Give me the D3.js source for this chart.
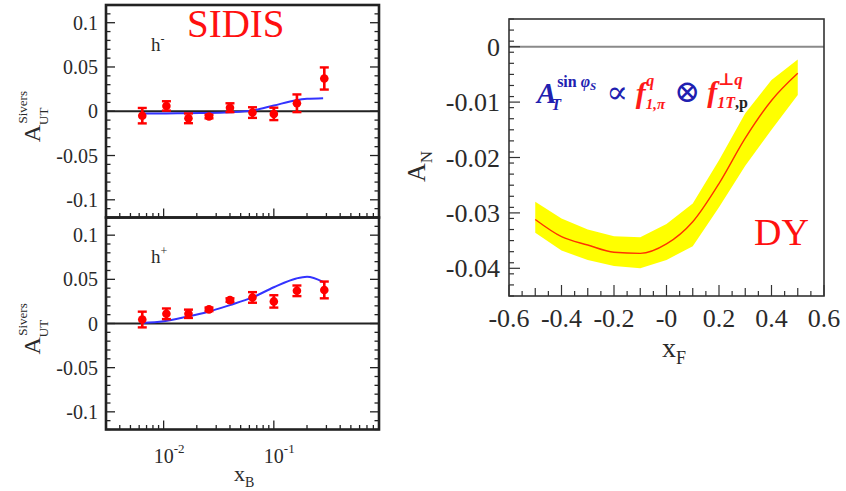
<!DOCTYPE html>
<html><head><meta charset="utf-8">
<script src="https://cdn.jsdelivr.net/npm/d3@7/dist/d3.min.js"></script>
<style>
html,body{margin:0;padding:0;background:#fff;}
svg{display:block;}
svg text{font-family:'Liberation Serif','Times New Roman',Times,'DejaVu Serif',serif;}
</style></head>
<body>
<svg id="chart" width="846" height="491" font-family="Liberation Serif, Times New Roman, serif"></svg>
<script>
// ---------- data: SIDIS panels ----------
const xB = [0.0064, 0.0106, 0.0168, 0.0258, 0.040, 0.064, 0.100, 0.162, 0.287];
const hMinusVal = [-0.005, 0.006, -0.008, -0.006, 0.004, -0.0015, -0.003, 0.009, 0.037];
const hMinusErr = [0.0087, 0.0053, 0.0055, 0.002, 0.005, 0.006, 0.007, 0.010, 0.0125];
const hPlusVal = [0.0045, 0.011, 0.011, 0.016, 0.0265, 0.0295, 0.025, 0.037, 0.038];
const hPlusErr = [0.0089, 0.006, 0.0047, 0.002, 0.002, 0.006, 0.007, 0.006, 0.0095];
const curveX = [0.0064, 0.01, 0.016, 0.025, 0.04, 0.064, 0.1, 0.16, 0.2, 0.28];
const hMinusCurve = [-0.0025, -0.0025, -0.0022, -0.002, -0.0012, 0.0008, 0.0065, 0.0125, 0.014, 0.0148];
const hPlusCurve = [0.0007, 0.0026, 0.0075, 0.013, 0.0208, 0.0295, 0.041, 0.051, 0.0529, 0.047];
const sidisYTicks = [0.1, 0.05, 0, -0.05, -0.1];
const sidisYLabels = ["0.1", "0.05", "0", "-0.05", "-0.1"];
const sidisXMajor = [0.01, 0.1];
const sidisXExp = ["-2", "-1"];

// ---------- data: DY panel ----------
const xF = [-0.5, -0.4, -0.3, -0.2, -0.1, 0.0, 0.1, 0.2, 0.3, 0.4, 0.5];
const dyCentral = [-0.0312, -0.0343, -0.0358, -0.0371, -0.0373, -0.0356, -0.0316, -0.0247, -0.0165, -0.0097, -0.0048];
const dyUpper = [-0.0280, -0.0310, -0.0330, -0.0342, -0.0344, -0.0320, -0.0283, -0.0205, -0.0120, -0.0060, -0.0023];
const dyLower = [-0.0336, -0.0368, -0.0385, -0.0396, -0.0400, -0.0385, -0.0360, -0.0290, -0.0215, -0.0150, -0.0087];
const dyYTicks = [0, -0.01, -0.02, -0.03, -0.04];
const dyYLabels = ["0", "-0.01", "-0.02", "-0.03", "-0.04"];
const dyXTicks = [-0.6, -0.4, -0.2, 0, 0.2, 0.4, 0.6];
const dyXLabels = ["-0.6", "-0.4", "-0.2", "-0", "0.2", "0.4", "0.6"];

const svg = d3.select("#chart");
const TXT = "#2a2a2a";

// ================= LEFT (SIDIS) =================
const L = {x0: 106, x1: 379};
const panels = [
  {y0: 5, y1: 217.5, val: hMinusVal, err: hMinusErr, curve: hMinusCurve, lab: "h", sup: "-"},
  {y0: 217.5, y1: 429.5, val: hPlusVal, err: hPlusErr, curve: hPlusCurve, lab: "h", sup: "+"}
];
const xLog = d3.scaleLog().domain([0.003, 0.9]).range([L.x0, L.x1]);

panels.forEach((p, pi) => {
  const y = d3.scaleLinear().domain([-0.12, 0.12]).range([p.y1, p.y0]);
  const g = svg.append("g");
  g.append("line").attr("x1", L.x0).attr("x2", L.x1).attr("y1", y(0)).attr("y2", y(0))
    .attr("stroke", "#222").attr("stroke-width", 2);
  const minor = d3.range(-12, 13).map(d => d / 100);
  minor.forEach(v => {
    const major = Math.abs(Math.round(v * 100) % 5) === 0;
    const len = major ? 9 : 4.5;
    g.append("line").attr("x1", L.x0).attr("x2", L.x0 + len).attr("y1", y(v)).attr("y2", y(v))
      .attr("stroke", "#222").attr("stroke-width", 1.3);
    g.append("line").attr("x1", L.x1).attr("x2", L.x1 - len).attr("y1", y(v)).attr("y2", y(v))
      .attr("stroke", "#222").attr("stroke-width", 1.3);
  });
  sidisYTicks.forEach((v, i) => {
    g.append("text").attr("x", 98).attr("y", y(v) + 7).attr("text-anchor", "end")
      .attr("font-size", 20).attr("fill", TXT).text(sidisYLabels[i]);
  });
  const xt = [];
  for (let e = -3; e <= -1; e++) for (let k = 1; k <= 9; k++) { const v = k * Math.pow(10, e); if (v >= 0.003 && v <= 0.9) xt.push(v); }
  xt.forEach(v => {
    const major = Math.abs(Math.log10(v) - Math.round(Math.log10(v))) < 1e-6;
    const len = major ? 9 : 4.5;
    g.append("line").attr("x1", xLog(v)).attr("x2", xLog(v)).attr("y1", p.y1).attr("y2", p.y1 - len)
      .attr("stroke", "#222").attr("stroke-width", 1.3);
  });
  const line = d3.line().x((d, i) => xLog(curveX[i])).y(d => y(d)).curve(d3.curveMonotoneX);
  g.append("path").attr("d", line(p.curve)).attr("fill", "none").attr("stroke", "#3333ff").attr("stroke-width", 2);
  xB.forEach((xv, i) => {
    const cx = xLog(xv), v = p.val[i], e = p.err[i];
    g.append("line").attr("x1", cx).attr("x2", cx).attr("y1", y(v - e)).attr("y2", y(v + e))
      .attr("stroke", "#ff0000").attr("stroke-width", 2.6);
    [v - e, v + e].forEach(t => g.append("line").attr("x1", cx - 4.5).attr("x2", cx + 4.5).attr("y1", y(t)).attr("y2", y(t))
      .attr("stroke", "#ff0000").attr("stroke-width", 2.4));
    g.append("circle").attr("cx", cx).attr("cy", y(v)).attr("r", 4.3).attr("fill", "#ff0000");
  });
  const hl = g.append("text").attr("x", 151).attr("y", pi === 0 ? 51 : 263).attr("font-size", 19).attr("fill", TXT);
  hl.append("tspan").text(p.lab);
  hl.append("tspan").attr("dy", -8).attr("font-size", 12).text(p.sup);
  g.append("rect").attr("x", L.x0).attr("y", p.y0).attr("width", L.x1 - L.x0).attr("height", p.y1 - p.y0)
    .attr("fill", "none").attr("stroke", "#222").attr("stroke-width", 2.6);
  const yl = g.append("g").attr("transform", `translate(40,${y(0) + 31}) rotate(-90)`);
  const ylt = yl.append("text").attr("font-size", 24).attr("fill", TXT);
  ylt.append("tspan").text("A");
  ylt.append("tspan").attr("font-size", 13).attr("dy", 8).text("UT");
  ylt.append("tspan").attr("font-size", 13).attr("dx", -16).attr("dy", -21).text("Sivers");
});
sidisXMajor.forEach((v, i) => {
  const t = svg.append("text").attr("x", xLog(v) - 10).attr("y", 463).attr("font-size", 20).attr("fill", TXT);
  t.append("tspan").text("10");
  t.append("tspan").attr("dy", -10).attr("font-size", 13).text(sidisXExp[i]);
});
{
  const t = svg.append("text").attr("x", 234).attr("y", 481).attr("font-size", 22).attr("fill", TXT);
  t.append("tspan").text("x");
  t.append("tspan").attr("dy", 6).attr("font-size", 14).text("B");
}
svg.append("text").attr("x", 187).attr("y", 37).attr("font-size", 39).attr("fill", "#ff1010").text("SIDIS");

// ================= RIGHT (DY) =================
const R = {x0: 509, x1: 824, y0: 19, y1: 296};
const xs = d3.scaleLinear().domain([-0.6, 0.6]).range([R.x0, R.x1]);
const ys = d3.scaleLinear().domain([-0.045, 0.005]).range([R.y1, R.y0]);
const rg = svg.append("g");
const area = d3.area().x((d, i) => xs(xF[i])).y0((d, i) => ys(dyLower[i])).y1(d => ys(d));
rg.append("path").attr("d", area(dyUpper)).attr("fill", "#ffff00");
const cl = d3.line().x((d, i) => xs(xF[i])).y(d => ys(d)).curve(d3.curveMonotoneX);
rg.append("path").attr("d", cl(dyCentral)).attr("fill", "none").attr("stroke", "#ff3300").attr("stroke-width", 1.4);
rg.append("line").attr("x1", R.x0).attr("x2", R.x1).attr("y1", ys(0)).attr("y2", ys(0))
  .attr("stroke", "#8a8a8a").attr("stroke-width", 2);
d3.range(-45, 6, 2).forEach(k => {
  const v = k / 1000;
  rg.append("line").attr("x1", R.x0).attr("x2", R.x0 + 5).attr("y1", ys(v)).attr("y2", ys(v)).attr("stroke", "#333").attr("stroke-width", 1.2);
});
dyYTicks.forEach((v, i) => {
  rg.append("line").attr("x1", R.x0).attr("x2", R.x0 + 11).attr("y1", ys(v)).attr("y2", ys(v)).attr("stroke", "#333").attr("stroke-width", 1.2);
  rg.append("text").attr("x", 500).attr("y", ys(v) + 9).attr("text-anchor", "end").attr("font-size", 26).attr("fill", TXT).text(dyYLabels[i]);
});
d3.range(-12, 13).forEach(k => {
  const v = k * 0.05;
  const major = k % 4 === 0;
  const mid = !major && k % 2 === 0;
  const len = major ? 11 : (mid ? 8 : 5);
  rg.append("line").attr("x1", xs(v)).attr("x2", xs(v)).attr("y1", R.y1).attr("y2", R.y1 - len).attr("stroke", "#333").attr("stroke-width", 1.2);
});
dyXTicks.forEach((v, i) => {
  rg.append("text").attr("x", xs(v)).attr("y", 327).attr("text-anchor", "middle").attr("font-size", 26).attr("fill", TXT).text(dyXLabels[i]);
});
rg.append("rect").attr("x", R.x0).attr("y", R.y0).attr("width", R.x1 - R.x0).attr("height", R.y1 - R.y0)
  .attr("fill", "none").attr("stroke", "#333").attr("stroke-width", 1.6);
{
  const t = svg.append("text").attr("x", 662).attr("y", 357).attr("font-size", 28).attr("fill", TXT);
  t.append("tspan").text("x");
  t.append("tspan").attr("dy", 7).attr("font-size", 18).text("F");
  const a = svg.append("g").attr("transform", "translate(425,182) rotate(-90)");
  const at = a.append("text").attr("font-size", 26).attr("fill", TXT);
  at.append("tspan").text("A");
  at.append("tspan").attr("dy", 7).attr("font-size", 17).text("N");
}
svg.append("text").attr("x", 754).attr("y", 245).attr("font-size", 38).attr("fill", "#ff1010").text("DY");
{
  const blue = "#2020b0", red = "#ff1a1a";
  const f = svg.append("text").attr("x", 537).attr("y", 103).attr("font-style", "italic").attr("font-weight", "bold").attr("font-size", 29);
  f.append("tspan").attr("fill", blue).text("A");
  f.append("tspan").attr("fill", blue).attr("font-size", 16).attr("dx", -5).attr("dy", 7).text("T");
  f.append("tspan").attr("fill", blue).attr("font-size", 16).attr("font-style", "normal").attr("dx", -4).attr("dy", -23).text("sin ");
  f.append("tspan").attr("fill", blue).attr("font-size", 16).text("φ");
  f.append("tspan").attr("fill", blue).attr("font-size", 11).attr("dy", 3).text("S");
  f.append("tspan").attr("fill", blue).attr("font-size", 32).attr("font-style", "normal").attr("font-weight", "normal").attr("dx", 10).attr("dy", 13).text("∝");
  f.append("tspan").attr("fill", red).attr("font-size", 30).attr("dx", 8).text("f");
  f.append("tspan").attr("fill", red).attr("font-size", 15).attr("dx", 0).attr("dy", 6).text("1,π");
  f.append("tspan").attr("fill", red).attr("font-size", 16).attr("dx", -19).attr("dy", -23).text("q");
  f.append("tspan").attr("fill", blue).attr("font-size", 31).attr("font-style", "normal").attr("font-weight", "normal").attr("dx", 20).attr("dy", 16).text("⊗");
  f.append("tspan").attr("fill", red).attr("font-size", 30).attr("dx", 7).text("f");
  f.append("tspan").attr("fill", red).attr("font-size", 16).attr("dy", 6).text("1T");
  f.append("tspan").attr("fill", "#222").attr("font-size", 16).attr("font-style", "normal").text(",p");
  f.append("tspan").attr("fill", red).attr("font-size", 17).attr("font-style", "normal").attr("dx", -30).attr("dy", -23).text("⊥");
  f.append("tspan").attr("fill", red).attr("font-size", 17).text("q");
}
</script>
</body></html>
